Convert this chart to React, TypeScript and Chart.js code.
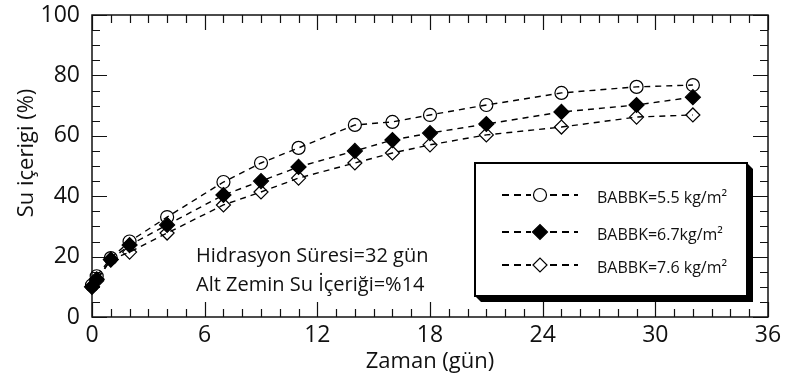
import React, { useEffect, useRef } from "react";
import { Chart, registerables } from "chart.js";

Chart.register(...registerables);

const FONT = "'Open Sans', sans-serif";

// Data
const daysA = [0, 0.25, 1, 2, 4, 7, 9, 11, 14, 16, 18, 21, 25, 29, 32];
const series55 = [10.5, 13.5, 19.5, 25, 33.1, 44.7, 51, 56, 63.6, 64.6, 66.9, 70.2, 74.2, 76.2, 76.8];
const series67 = [10, 12.5, 19, 23.8, 30.5, 40.4, 45, 49.7, 55, 58.6, 60.9, 63.9, 67.9, 70.2, 72.8];
const series76 = [10, 12, 19, 21.5, 27.8, 37.1, 41.4, 46, 51, 54.3, 57, 60.3, 62.9, 66.2, 66.9];
const seriesLabels = ["BABBK=5.5 kg/m²", "BABBK=6.7kg/m²", "BABBK=7.6 kg/m²"];
const noteLines = ["Hidrasyon Süresi=32 gün", "Alt Zemin Su İçeriği=%14"];
const xTitle = "Zaman (gün)";
const yTitle = "Su içerigi (%)";

const toPts = (ys: number[]) => ys.map((y, i) => ({ x: daysA[i], y }));

function drawMarker(ctx: CanvasRenderingContext2D, style: string, r: number, x: number, y: number) {
  ctx.beginPath();
  if (style === "circle") {
    ctx.arc(x, y, r, 0, Math.PI * 2);
  } else {
    ctx.moveTo(x - r, y);
    ctx.lineTo(x, y - r);
    ctx.lineTo(x + r, y);
    ctx.lineTo(x, y + r);
    ctx.closePath();
  }
  ctx.fill();
  ctx.stroke();
}

const framePlugin = {
  id: "frameTicks",
  beforeDatasetsDraw(chart: any) {
    const { ctx, chartArea: a, scales } = chart;
    const xs = scales.x;
    const ys = scales.y;
    ctx.save();
    ctx.strokeStyle = "#111";
    ctx.lineWidth = 1.5;
    ctx.strokeRect(a.left, a.top, a.right - a.left, a.bottom - a.top);
    ctx.lineWidth = 1.2;
    ctx.beginPath();
    for (let v = 0; v <= 36; v += 1) {
      const px = Math.round(xs.getPixelForValue(v)) + 0.5;
      const len = v % 6 === 0 ? 15 : 8;
      ctx.moveTo(px, a.bottom);
      ctx.lineTo(px, a.bottom - len);
      ctx.moveTo(px, a.top);
      ctx.lineTo(px, a.top + len);
    }
    for (let v = 0; v <= 100; v += 5) {
      const py = Math.round(ys.getPixelForValue(v)) + 0.5;
      const len = v % 20 === 0 ? 15 : 8;
      ctx.moveTo(a.left, py);
      ctx.lineTo(a.left + len, py);
      ctx.moveTo(a.right, py);
      ctx.lineTo(a.right - len, py);
    }
    ctx.stroke();
    ctx.restore();
  },
  afterDraw(chart: any) {
    const { ctx, chartArea: a } = chart;
    ctx.save();
    // y-axis title
    ctx.save();
    ctx.translate(27, a.top + 138);
    ctx.rotate(-Math.PI / 2);
    ctx.fillStyle = "#111";
    ctx.font = `22px ${FONT}`;
    ctx.textAlign = "center";
    ctx.textBaseline = "middle";
    ctx.fillText(yTitle, 0, 0);
    ctx.restore();

    // annotation
    ctx.fillStyle = "#111";
    ctx.font = `20px ${FONT}`;
    ctx.textBaseline = "middle";
    ctx.textAlign = "left";
    ctx.fillText(noteLines[0], a.left + 104, a.top + 241);
    ctx.fillText(noteLines[1], a.left + 104, a.top + 270);

    // legend box
    const L = a.left + 383;
    const T = a.top + 148;
    const R = a.left + 655;
    const B = a.top + 281;
    const s = 6;
    ctx.fillStyle = "#000";
    ctx.beginPath();
    ctx.moveTo(R, T);
    ctx.lineTo(R + s, T + s);
    ctx.lineTo(R + s, B + s);
    ctx.lineTo(L + s, B + s);
    ctx.lineTo(L, B);
    ctx.closePath();
    ctx.fill();
    ctx.fillStyle = "#fff";
    ctx.fillRect(L, T, R - L, B - T);
    ctx.strokeStyle = "#000";
    ctx.lineWidth = 2;
    ctx.strokeRect(L, T, R - L, B - T);

    const rows = [T + 32, T + 69, T + 102];
    const ordered = [1, 0, 2].map((k) => chart.data.datasets[k]);
    ordered.forEach((ds: any, i: number) => {
      const y = rows[i];
      ctx.save();
      ctx.strokeStyle = "#000";
      ctx.lineWidth = 1.8;
      ctx.setLineDash([7, 5]);
      ctx.beginPath();
      ctx.moveTo(L + 27, y);
      ctx.lineTo(L + 103, y);
      ctx.stroke();
      ctx.restore();
      ctx.save();
      ctx.fillStyle = "#fff";
      ctx.fillRect(L + 56, y - 8, 18, 16);
      ctx.fillStyle = ds.pointBackgroundColor === "rgba(0,0,0,0)" ? "#fff" : ds.pointBackgroundColor;
      ctx.strokeStyle = "#000";
      ctx.lineWidth = ds.pointBorderWidth;
      drawMarker(ctx, ds.pointStyle === "circle" ? "circle" : "diamond", ds.pointRadius, L + 65, y);
      ctx.restore();
      ctx.save();
      ctx.fillStyle = "#111";
      ctx.font = `16px ${FONT}`;
      ctx.textBaseline = "middle";
      ctx.fillText(ds.label, L + 122, y + 3);
      ctx.restore();
    });
    ctx.restore();
  },
};

const noPad = (s: any) => {
  s.paddingTop = 0;
  s.paddingBottom = 0;
  s.paddingLeft = 0;
  s.paddingRight = 0;
};

export default function App() {
  const ref = useRef<HTMLCanvasElement | null>(null);
  useEffect(() => {
    document.body.style.margin = "0";
    const canvas = ref.current;
    if (!canvas) return;
    const common = {
      showLine: true,
      borderColor: "#000",
      borderWidth: 1.4,
      borderDash: [6, 5],
      pointBorderColor: "#000",
      pointBorderWidth: 1.2,
      clip: false,
      fill: false,
    };
    const chart = new Chart(canvas, {
      type: "scatter",
      data: {
        datasets: [
          {
            ...common,
            label: seriesLabels[1],
            data: toPts(series67),
            pointStyle: "rectRot",
            pointRadius: 7.5,
            pointBackgroundColor: "#000",
            order: 0,
          },
          {
            ...common,
            label: seriesLabels[0],
            data: toPts(series55),
            pointStyle: "circle",
            pointRadius: 6.5,
            pointBackgroundColor: "rgba(0,0,0,0)",
            order: 1,
          },
          {
            ...common,
            label: seriesLabels[2],
            data: toPts(series76),
            pointStyle: "rectRot",
            pointRadius: 7,
            pointBackgroundColor: "rgba(0,0,0,0)",
            order: 2,
          },
        ] as any,
      },
      options: {
        responsive: false,
        animation: false,
        layout: { padding: { left: 0, top: 15, right: 18, bottom: 0 } },
        plugins: { legend: { display: false }, tooltip: { enabled: false } },
        scales: {
          x: {
            type: "linear",
            min: 0,
            max: 36,
            grid: { display: false, drawTicks: false },
            border: { display: false },
            ticks: { stepSize: 6, color: "#111", font: { family: FONT, size: 23 }, padding: 5, maxRotation: 0 },
            title: { display: true, text: xTitle, color: "#111", font: { family: FONT, size: 22 }, padding: { top: 0, bottom: 3 } },
            afterFit: (s: any) => { s.height = 61; noPad(s); },
          },
          y: {
            type: "linear",
            min: 0,
            max: 100,
            grid: { display: false, drawTicks: false },
            border: { display: false },
            ticks: { stepSize: 20, color: "#111", font: { family: FONT, size: 23 }, padding: 12 },
            title: { display: false },
            afterFit: (s: any) => { s.width = 92; noPad(s); },
          },
        },
      } as any,
      plugins: [framePlugin],
    });
    return () => chart.destroy();
  }, []);
  return (
    <div style={{ position: "absolute", left: 0, top: 0, width: 786, height: 378 }}>
      <canvas ref={ref} width={786} height={378} />
    </div>
  );
}
